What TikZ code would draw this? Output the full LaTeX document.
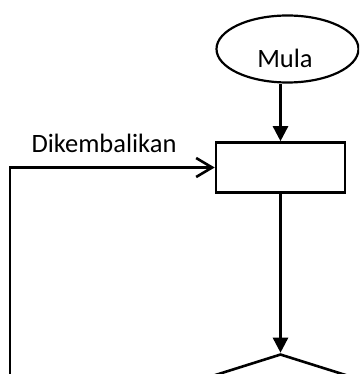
\documentclass[tikz,border=0pt]{standalone}
\usepackage{fontspec}
\setmainfont{Carlito}
\usetikzlibrary{shapes.geometric,arrows.meta}
\begin{document}
\begin{tikzpicture}[x=1pt,y=-1pt,
  every node/.style={font=\fontsize{26.5}{31}\selectfont},
  flowline/.style={line width=2.6pt},
  solidtip/.style={-{Triangle[length=15pt,width=15pt]}},
  opentip/.style={-{Straight Barb[length=16pt,width=19pt,line width=2.6pt]}},
  terminal/.style={draw,ellipse,line width=2.2pt,minimum width=142pt,minimum height=67pt,inner sep=0pt},
  process/.style={draw,rectangle,line width=2.6pt,minimum width=129pt,minimum height=50pt,inner sep=0pt},
  decision/.style={draw,diamond,line width=2.6pt,minimum width=252pt,minimum height=80pt,inner sep=0pt}]
\useasboundingbox (0,0) rectangle (359,374);
\clip (0,0) rectangle (359,374);
\node[terminal] (start) at (287.5,49) {};
\node[anchor=base] (startlabel) at (285,68) {Mula};
\node[process] (proc) at (280.5,167.5) {};
\node[decision] (dec) at (280.5,394) {};
\node[anchor=base] (backlabel) at (104,153) {Dikembalikan};
\coordinate (back) at (10,390);
\draw[flowline,solidtip] (proc.north |- start.south) -- (proc.north);
\draw[flowline,solidtip] (proc.south) -- (dec.north);
\draw[flowline,opentip] (back) |- (proc.west);
\end{tikzpicture}
\end{document}
